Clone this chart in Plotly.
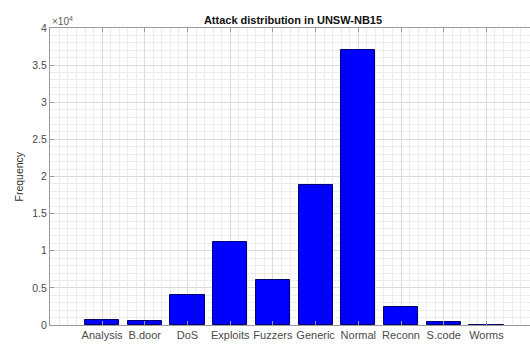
import plotly.graph_objects as go

# Test-set class counts
categories = ["Analysis", "B.door", "DoS", "Exploits", "Fuzzers",
              "Generic", "Normal", "Reconn", "S.code", "Worms"]
counts = [677, 583, 4089, 11132, 6062, 18871, 37000, 2470, 378, 44]
y_tick_values = [0, 5000, 10000, 15000, 20000, 25000, 30000, 35000, 40000]
y_tick_labels = ["0", "0.5", "1", "1.5", "2", "2.5", "3", "3.5", "4"]

positions = list(range(len(categories)))

W, H = 530, 345
ML, MR, MT, MB = 50, 0, 28, 20

fig = go.Figure(
    go.Bar(
        x=positions,
        y=counts,
        width=0.8,
        marker=dict(color="#0000ff", line=dict(color="#00006e", width=1)),
    )
)

font_family = "Liberation Sans, Arial, sans-serif"
x_font = dict(family=font_family, size=11, color="#4a4a4a")
y_font = dict(family=font_family, size=10.5, color="#4a4a4a")

fig.update_layout(
    width=W,
    height=H,
    margin=dict(l=ML, r=MR, t=MT, b=MB),
    paper_bgcolor="white",
    plot_bgcolor="white",
    showlegend=False,
    bargap=0,
    xaxis=dict(
        range=[-1.22, 10.02],
        tickmode="array",
        tickvals=positions,
        ticktext=categories,
        tickfont=x_font,
        ticks="inside",
        ticklen=4,
        tickcolor="#9a9a9a",
        showline=True,
        linecolor="#9a9a9a",
        linewidth=1,
        mirror="ticks",
        showgrid=True,
        gridcolor="#dadada",
        gridwidth=1,
        zeroline=False,
        minor=dict(tick0=0, dtick=0.2, showgrid=True, gridcolor="#ececec", gridwidth=1),
        fixedrange=True,
    ),
    yaxis=dict(
        range=[0, 40000],
        tickmode="array",
        tickvals=y_tick_values,
        ticktext=y_tick_labels,
        tickfont=y_font,
        ticks="inside",
        ticklen=4,
        tickcolor="#9a9a9a",
        showline=True,
        linecolor="#9a9a9a",
        linewidth=1,
        showgrid=True,
        gridcolor="#dadada",
        gridwidth=1,
        zeroline=False,
        minor=dict(tick0=0, dtick=1000, showgrid=True, gridcolor="#ececec", gridwidth=1),
        fixedrange=True,
    ),
    title=dict(
        text="<b>Attack distribution in UNSW-NB15</b>",
        font=dict(family=font_family, size=11, color="#111111"),
        x=(293 - ML) / (W - ML - MR),
        xref="paper",
        xanchor="center",
        y=1 - 20 / H,
        yref="container",
        yanchor="middle",
    ),
    annotations=[
        dict(
            text="Frequency",
            textangle=-90,
            x=-32 / (W - ML - MR),
            xref="paper",
            y=0.5,
            yref="paper",
            xanchor="center",
            yanchor="middle",
            showarrow=False,
            font=dict(family=font_family, size=10.5, color="#333333"),
        ),
        dict(
            text="×10<sup>4</sup>",
            x=0,
            xref="paper",
            y=1,
            yref="paper",
            xanchor="left",
            yanchor="bottom",
            yshift=-1,
            showarrow=False,
            font=dict(family=font_family, size=10, color="#5a5a5a"),
        ),
    ],
)

fig.write_html("out.html")
